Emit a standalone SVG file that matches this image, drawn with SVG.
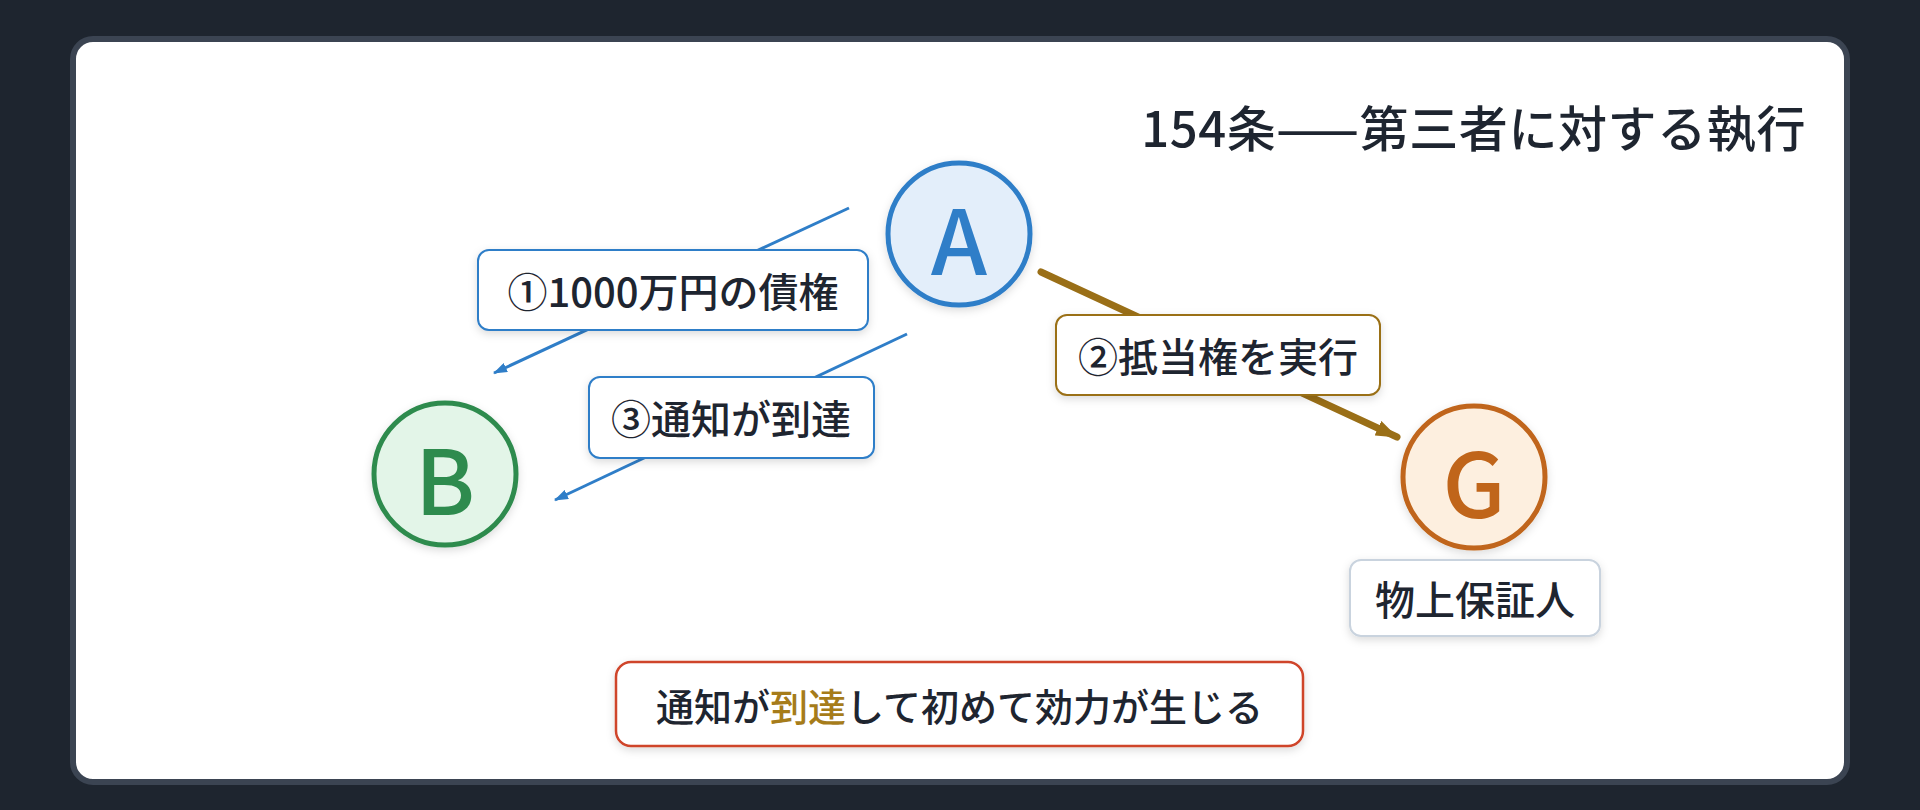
<svg xmlns="http://www.w3.org/2000/svg" width="1920" height="810" viewBox="0 0 1920 810">
  <defs>
    <style>
      .t { font-family: "Noto Sans CJK JP", "Noto Sans", "Liberation Sans", sans-serif; fill: #1e2530; }
      .lbl { font-size: 40px; font-weight: 500; text-anchor: middle; dominant-baseline: central; }
      .letter { font-size: 90px; font-weight: 500; text-anchor: middle; dominant-baseline: central; }
      .box { fill: #ffffff; stroke-width: 2; }
      .blue { stroke: #2f7ec8; }
      .gold { stroke: #9a6f17; }
    </style>
    <filter id="sh" x="-20%" y="-20%" width="140%" height="150%">
      <feDropShadow dx="0" dy="3" stdDeviation="4" flood-color="#000" flood-opacity="0.14"/>
    </filter>
    <marker id="ab" markerUnits="userSpaceOnUse" markerWidth="14" markerHeight="10" refX="13" refY="5" orient="auto">
      <path d="M0,0 L14,5 L0,10 Z" fill="#2f7ec8"/>
    </marker>
    <marker id="ag" markerUnits="userSpaceOnUse" markerWidth="22" markerHeight="16" refX="21" refY="8" orient="auto">
      <path d="M0,0 L22,8 L0,16 Z" fill="#9a6f17"/>
    </marker>
  </defs>

  <rect x="0" y="0" width="1920" height="810" fill="#1e252f"/>
  <rect x="73" y="39" width="1774" height="743" rx="20" fill="#ffffff" stroke="#3b4452" stroke-width="6"/>

  <g id="title">
    <text class="t" x="1806" y="125" font-size="49" font-weight="500" letter-spacing="0.6" text-anchor="end" dominant-baseline="central">154条——第三者に対する執行</text>
  </g>

  <g id="connectors" fill="none">
    <line x1="849" y1="208" x2="494" y2="373" stroke="#2f7ec8" stroke-width="3" marker-end="url(#ab)"/>
    <line x1="907" y1="334" x2="555" y2="500" stroke="#2f7ec8" stroke-width="3" marker-end="url(#ab)"/>
    <line x1="1041" y1="272" x2="1397" y2="437" stroke="#9a6f17" stroke-width="7" stroke-linecap="round" marker-end="url(#ag)"/>
  </g>

  <g id="node-A">
    <circle cx="959" cy="234" r="71" fill="#e3eefa" stroke="#2f7ec8" stroke-width="5" filter="url(#sh)"/>
    <text class="t letter" x="959" y="236" style="fill:#2f7ec8">A</text>
  </g>
  <g id="node-B">
    <circle cx="445" cy="474" r="71" fill="#e3f5e8" stroke="#2e8b4e" stroke-width="5" filter="url(#sh)"/>
    <text class="t letter" x="445" y="476" style="fill:#2e8b4e">B</text>
  </g>
  <g id="node-G">
    <circle cx="1474" cy="477" r="71" fill="#fdefdf" stroke="#c0651a" stroke-width="5" filter="url(#sh)"/>
    <text class="t letter" x="1474" y="479" style="fill:#c0651a">G</text>
  </g>

  <g id="label-1">
    <rect class="box blue" x="478" y="250" width="390" height="80" rx="11" filter="url(#sh)"/>
    <text class="t lbl" x="673" y="290">①1000万円の債権</text>
  </g>
  <g id="label-2">
    <rect class="box gold" x="1056" y="315" width="324" height="80" rx="11" filter="url(#sh)"/>
    <text class="t lbl" x="1218" y="355">②抵当権を実行</text>
  </g>
  <g id="label-3">
    <rect class="box blue" x="589" y="377" width="285" height="81" rx="11" filter="url(#sh)"/>
    <text class="t lbl" x="731" y="417">③通知が到達</text>
  </g>
  <g id="label-G">
    <rect class="box" x="1350" y="560" width="250" height="76" rx="11" stroke="#c9d3de" filter="url(#sh)"/>
    <text class="t lbl" x="1475" y="598" font-size="41">物上保証人</text>
  </g>

  <g id="note">
    <rect x="616" y="662" width="687" height="84" rx="15" fill="#ffffff" stroke="#cf4429" stroke-width="2.5" filter="url(#sh)"/>
    <text class="t" x="959.5" y="704" font-size="38" font-weight="500" text-anchor="middle" dominant-baseline="central">通知が<tspan style="fill:#a67c1a">到達</tspan>して初めて効力が生じる</text>
  </g>
</svg>
